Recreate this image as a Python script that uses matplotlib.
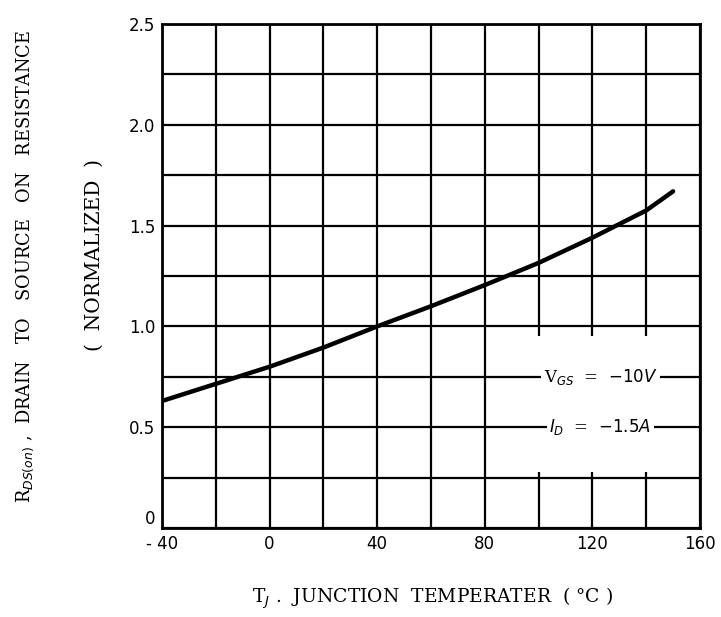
import numpy as np
import matplotlib.pyplot as plt
from matplotlib.patches import Rectangle

# normalized R_DS(on) vs junction temperature
temp_c = [-40, -20, 0, 20, 40, 60, 80, 100, 120, 140, 150]
rds_norm = [0.63, 0.715, 0.80, 0.895, 1.0, 1.10, 1.205, 1.315, 1.44, 1.575, 1.67]

x_ticks = [-40, 0, 40, 80, 120, 160]
x_tick_labels = ['- 40', '0', '40', '80', '120', '160']
y_ticks = [0, 0.5, 1.0, 1.5, 2.0, 2.5]
y_tick_labels = ['0', '0.5', '1.0', '1.5', '2.0', '2.5']
x_grid = np.arange(-40, 161, 20)
y_grid = np.arange(0, 2.51, 0.25)

cond_vgs = r'V$_{GS}$  =  $-10V$'
cond_id = r'$I_D$  =  $-1.5A$'

fig = plt.figure(figsize=(7.21, 6.17), dpi=100)
ax = fig.add_axes([162/721, 1 - 528/617, 538/721, 504/617])

# grid: verticals below the condition box, horizontals above it
for gx in x_grid:
    ax.axvline(gx, color='black', lw=1.6, zorder=1)
ax.add_patch(Rectangle((81, 0.28), 78, 0.67, facecolor='white',
                       edgecolor='none', zorder=2))
for gy in y_grid:
    ax.axhline(gy, color='black', lw=1.6, zorder=3)

ax.plot(temp_c, rds_norm, color='black', lw=3.2, zorder=5,
        solid_capstyle='round')

box = dict(facecolor='white', edgecolor='none', pad=2)
ax.text(123, 0.75, cond_vgs, ha='center', va='center', fontsize=12,
        family='serif', bbox=box, zorder=4)
ax.text(123, 0.5, cond_id, ha='center', va='center', fontsize=12,
        family='serif', bbox=box, zorder=4)

ax.set_xlim(-40, 160)
ax.set_ylim(0, 2.5)
ax.set_xticks(x_ticks)
ax.set_xticklabels(x_tick_labels, fontsize=12)
ax.set_yticks(y_ticks)
ax.set_yticklabels(y_tick_labels, fontsize=12)
ax.tick_params(length=0, pad=5)
ax.get_yticklabels()[0].set_va('bottom')
for s in ax.spines.values():
    s.set_linewidth(2)
    s.set_zorder(6)

fig.text(25/721, 1 - 267/617,
         r'R$_{DS(on)}$ ,  DRAIN   TO   SOURCE   ON   RESISTANCE',
         rotation=90, ha='center', va='center', fontsize=12.8, family='serif')
fig.text(94/721, 1 - 255/617, '(  NORMALIZED  )', rotation=90,
         ha='center', va='center', fontsize=14.5, family='serif')
fig.text(433/721, 1 - 598/617, r'T$_J$ .  JUNCTION  TEMPERATER  ( °C )',
         ha='center', va='center', fontsize=13.5, family='serif')

fig.savefig('out.png', dpi=100)
